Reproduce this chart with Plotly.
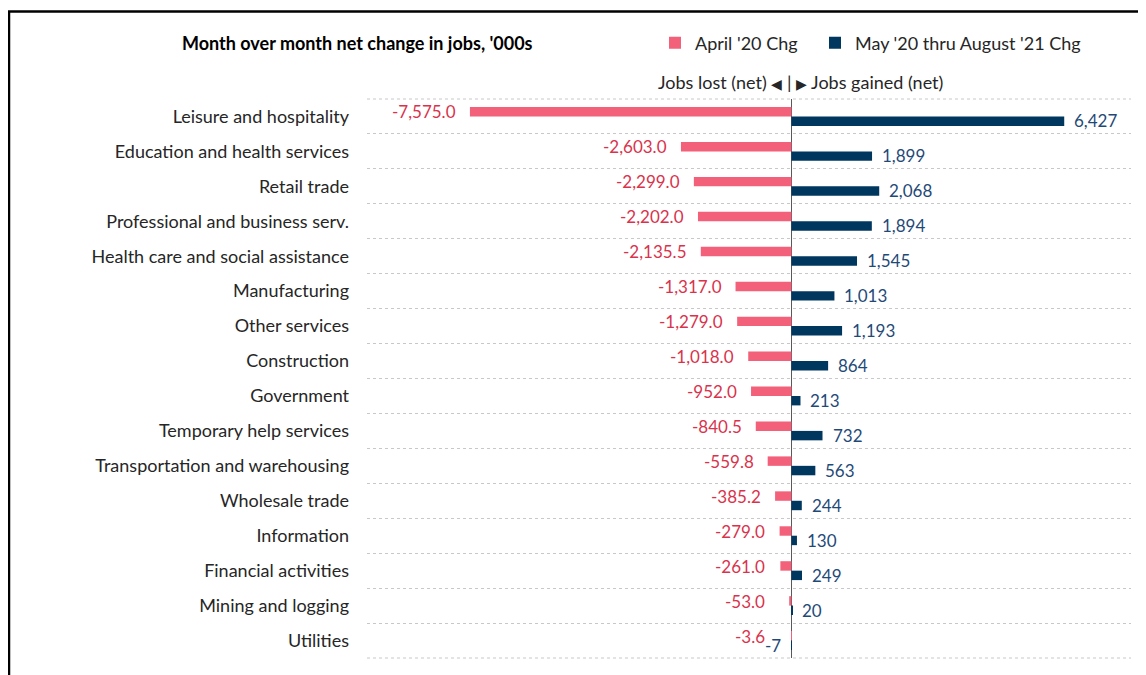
import plotly.graph_objects as go

categories = [
    "Leisure and hospitality", "Education and health services", "Retail trade",
    "Professional and business serv.", "Health care and social assistance",
    "Manufacturing", "Other services", "Construction", "Government",
    "Temporary help services", "Transportation and warehousing",
    "Wholesale trade", "Information", "Financial activities",
    "Mining and logging", "Utilities",
]
april_chg = [-7575.0, -2603.0, -2299.0, -2202.0, -2135.5, -1317.0, -1279.0,
             -1018.0, -952.0, -840.5, -559.8, -385.2, -279.0, -261.0, -53.0, -3.6]
may_aug_chg = [6427, 1899, 2068, 1894, 1545, 1013, 1193, 864, 213, 732, 563,
               244, 130, 249, 20, -7]

PINK = "#F2607A"
NAVY = "#00375F"
PINK_TXT = "#D9334C"
NAVY_TXT = "#1F4A78"
FONT = "Lato, 'Open Sans', sans-serif"
X_RANGE = [-10000, 8000]

# page body adds an 8px margin; design in screen pixels and convert
OFF = 8
W, H = 1146 - OFF, 675 - OFF
PL, PR, PT, PB = 367, 1131, 99, 658          # plot area in screen px
L, R, T, B = PL - OFF, W - (PR - OFF), PT - OFF, H - (PB - OFF)
K = (PR - PL) / (X_RANGE[1] - X_RANGE[0])    # px per data unit


def px(xs):
    return (xs - PL) / (PR - PL)


def py(ys):
    return (PB - ys) / (PB - PT)


fig = go.Figure()
fig.add_trace(go.Bar(
    y=categories, x=april_chg, orientation="h", name="April '20 Chg",
    marker=dict(color=PINK, line=dict(width=0)), legend="legend",
))
fig.add_trace(go.Bar(
    y=categories, x=may_aug_chg, orientation="h", name="May '20 thru August '21 Chg",
    marker=dict(color=NAVY, line=dict(width=0)), legend="legend2",
))

# data labels (Excel-style "outside end", kept clear of the zero line)
for cat, v in zip(categories, april_chg):
    fig.add_annotation(
        x=v, y=cat, xref="x", yref="y", text=f"{v:,.1f}", showarrow=False,
        xanchor="right", yanchor="middle",
        xshift=-max(12, 24 - abs(v) * K), yshift=4.5,
        font=dict(size=17, color=PINK_TXT, family=FONT),
    )
for cat, v in zip(categories, may_aug_chg):
    fig.add_annotation(
        x=v, y=cat, xref="x", yref="y", text=f"{v:,.0f}", showarrow=False,
        xanchor="left" if v >= 0 else "right", yanchor="middle",
        xshift=8 if v >= 0 else -8, yshift=-4.5,
        font=dict(size=17, color=NAVY_TXT, family=FONT),
    )

legend_common = dict(
    orientation="h", yanchor="middle", xanchor="left",
    font=dict(size=18, color="#262626", family=FONT),
    itemclick=False, itemdoubleclick=False, bgcolor="rgba(0,0,0,0)",
)

fig.update_layout(
    width=W, height=H,
    margin=dict(l=L, r=R, t=T, b=B, autoexpand=False),
    paper_bgcolor="white", plot_bgcolor="white",
    barmode="group", bargap=0.46, bargroupgap=0,
    font=dict(family=FONT, size=18, color="#262626"),
    showlegend=True,
    legend=dict(x=px(676 - 21), y=py(43), **legend_common),
    legend2=dict(x=px(836 - 21), y=py(43), **legend_common),
    xaxis=dict(
        range=X_RANGE, showticklabels=False, showgrid=False,
        zeroline=True, zerolinecolor="#595959", zerolinewidth=1,
        fixedrange=True,
    ),
    yaxis=dict(
        autorange="reversed", tickson="boundaries", showgrid=True,
        gridcolor="#C8C8C8", griddash="dot", gridwidth=1,
        ticks="outside", ticklen=0, ticklabelstandoff=17,
        tickfont=dict(size=18, color="#262626", family=FONT),
        showline=False, fixedrange=True,
    ),
)

# dotted grid lines on the top and bottom edges of the plot area
for yy in (0, 1):
    fig.add_shape(
        type="line", xref="paper", yref="paper", x0=0, x1=1, y0=yy, y1=yy,
        line=dict(color="#C8C8C8", width=1, dash="dot"), layer="below",
    )

fig.add_annotation(
    text="<b>Month over month net change in jobs, '000s</b>",
    xref="paper", yref="paper", x=px(180), y=py(43),
    xanchor="left", yanchor="middle", showarrow=False,
    font=dict(size=18, color="#000000", family=FONT),
)
fig.add_annotation(
    text="Jobs lost (net) <span style='font-size:14px'>◀</span> | "
         "<span style='font-size:14px'>▶</span> Jobs gained (net)",
    xref="paper", yref="paper", x=px(656), y=py(82),
    xanchor="left", yanchor="middle", showarrow=False,
    font=dict(size=18, color="#262626", family=FONT),
)

# outer chart frame (right and bottom edges fall outside the picture)
fig.add_shape(
    type="rect", xref="paper", yref="paper",
    x0=px(9), x1=px(1160), y0=py(690), y1=py(11.5),
    line=dict(color="#000000", width=2.5), fillcolor="rgba(0,0,0,0)",
    layer="above",
)

fig.write_html("out.html")
